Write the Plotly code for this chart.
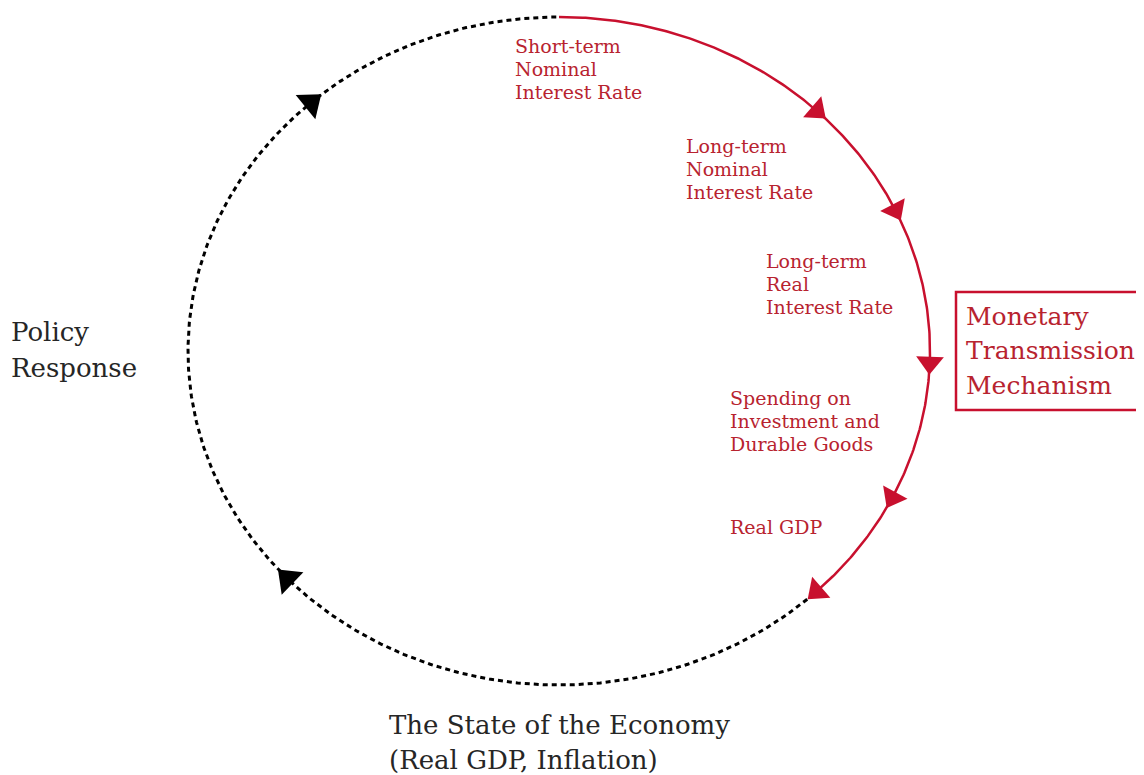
import numpy as np
import plotly.graph_objects as go

# ---- diagram content ----
channel_labels = [
    ["Short-term", "Nominal", "Interest Rate"],
    ["Long-term", "Nominal", "Interest Rate"],
    ["Long-term", "Real", "Interest Rate"],
    ["Spending on", "Investment and", "Durable Goods"],
    ["Real GDP"],
]
box_label = ["Monetary", "Transmission", "Mechanism"]
policy_label = ["Policy", "Response"]
economy_label = ["The State of the Economy", "(Real GDP, Inflation)"]

# arrow positions along the loop (degrees, math convention on the ellipse)
red_arrow_angles = [46, 25, -2, -26, -46]
black_arrow_angles = [132, 223]
red_arc = (90, -48)          # transmission arc, traversed clockwise

# ---- geometry / style ----
W, H = 1144, 775
OFF = 8                       # page body margin
CX, CY, RX, RY = 559, 351, 371, 334
RED = "#c8102e"
TXT_RED = "#b8232f"
DARK = "#262626"
SERIF = "DejaVu Serif, serif"


def pt(deg):
    t = np.radians(deg)
    return CX + RX * np.cos(t), CY - RY * np.sin(t)


def heading(deg):
    t = np.radians(deg)
    tx, ty = RX * np.sin(t), RY * np.cos(t)   # clockwise travel, screen coords
    return float(np.degrees(np.arctan2(tx, -ty)))


fig = go.Figure()

# dotted black part (from end of red arc, clockwise, back to top)
th = np.linspace(red_arc[1], red_arc[0] - 360, 400)
x, y = pt(th)
fig.add_trace(go.Scatter(x=x, y=y, mode="lines",
                         line=dict(color="black", width=3, dash="5px,4px"),
                         hoverinfo="skip"))

# red solid part
th = np.linspace(red_arc[0], red_arc[1] + 1, 300)
x, y = pt(th)
fig.add_trace(go.Scatter(x=x, y=y, mode="lines",
                         line=dict(color=RED, width=2.5), hoverinfo="skip"))

# arrowheads
for angles, col, size in [(red_arrow_angles, RED, 24), (black_arrow_angles, "black", 27)]:
    xs, ys = pt(np.array(angles, dtype=float))
    fig.add_trace(go.Scatter(
        x=xs, y=ys, mode="markers",
        marker=dict(symbol="triangle-up", size=size, color=col,
                    angle=[heading(a) for a in angles], line=dict(width=0)),
        hoverinfo="skip"))

# box around "Monetary Transmission Mechanism" (right side runs off the page)
fig.add_shape(type="rect", x0=956, y0=292, x1=1300, y1=410,
              line=dict(color=RED, width=2.5), fillcolor="rgba(0,0,0,0)")


def add_lines(lines, x0, y0, dy, size, color):
    for i, s in enumerate(lines):
        fig.add_annotation(x=x0, y=y0 + i * dy, text=s, showarrow=False,
                           xanchor="left", yanchor="middle",
                           font=dict(family=SERIF, size=size, color=color))


label_pos = [(513, 46), (684, 146), (764, 261), (728, 398), (728, 527)]
for lines, (lx, ly) in zip(channel_labels, label_pos):
    add_lines(lines, lx, ly, 23, 19, TXT_RED)

add_lines(box_label, 964, 316, 34.5, 25, TXT_RED)
add_lines(policy_label, 9, 332, 36, 26, DARK)
add_lines(economy_label, 387, 725, 35, 26, DARK)

fig.update_layout(
    width=W - OFF, height=H - OFF, margin=dict(l=0, r=0, t=0, b=0),
    paper_bgcolor="white", plot_bgcolor="white", showlegend=False,
    xaxis=dict(range=[OFF, W], visible=False, fixedrange=True),
    yaxis=dict(range=[H, OFF], visible=False, fixedrange=True),
)
fig.write_html("out.html")
